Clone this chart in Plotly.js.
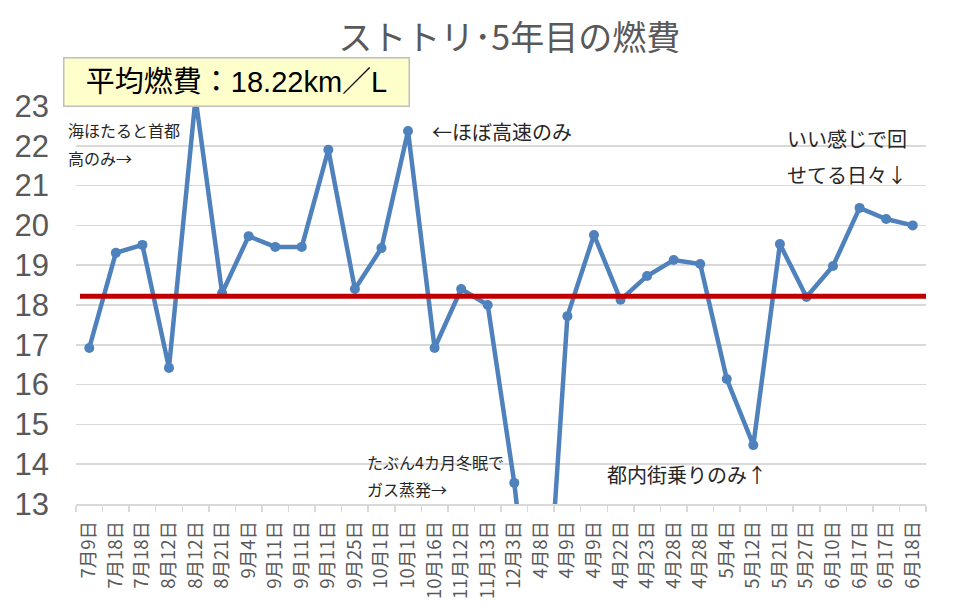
<!DOCTYPE html>
<html>
<head>
<meta charset="utf-8">
<script src="https://cdn.plot.ly/plotly-3.0.1.min.js"></script>
<style>
  body { margin: 0; background: #fff; }
  #chart { width: 959px; height: 616px; outline: 2px solid #d9d9d9; outline-offset: -3px; }
</style>
</head>
<body>
<div id="chart"></div>
<script>
// 給油日ごとの燃費 (km/L)
const dates = [
  "7月9日", "7月18日", "7月18日", "8月12日", "8月12日", "8月21日", "9月4日", "9月11日",
  "9月11日", "9月11日", "9月25日", "10月1日", "10月1日", "10月16日", "11月12日", "11月13日",
  "12月3日", "4月8日", "4月9日", "4月9日", "4月22日", "4月23日", "4月28日", "4月28日",
  "5月4日", "5月12日", "5月21日", "5月27日", "6月10日", "6月17日", "6月17日", "6月18日"
];
const fuel = [
  16.92, 19.31, 19.51, 16.42, 23.2, 18.30, 19.73, 19.46,
  19.46, 21.90, 18.40, 19.43, 22.37, 16.92, 18.40, 18.00,
  13.53, 7.6, 17.72, 19.76, 18.13, 18.73, 19.13, 19.03,
  16.14, 14.48, 19.53, 18.20, 18.98, 20.44, 20.16, 20.00
];
const average = 18.22;
const yTicks = [13, 14, 15, 16, 17, 18, 19, 20, 21, 22, 23];

const idx = dates.map((d, i) => i);
const bounds = dates.map((d, i) => i - 0.5).concat([dates.length - 0.5]);

const jp = '"Noto Sans CJK JP", "Noto Sans", sans-serif';
const mixed = '"Liberation Sans", "Noto Sans CJK JP", sans-serif';
const gray = "#595959";
const note = { family: jp, size: 16, color: "#262626" };
const noteBig = { family: jp, size: 20, color: "#262626" };

const data = [{
  x: idx,
  y: fuel,
  type: "scatter",
  mode: "lines+markers",
  line: { color: "#4f81bd", width: 4.5 },
  marker: { color: "#4f81bd", size: 10 },
  hoverinfo: "y"
}];

const txt = (text, x, y, font) => ({
  text: text, xref: "paper", yref: "paper", x: x, y: y,
  xanchor: "left", yanchor: "middle", showarrow: false, font: font
});

const layout = {
  width: 959,
  height: 616,
  margin: { l: 76, r: 33, t: 106, b: 112 },
  paper_bgcolor: "#ffffff",
  plot_bgcolor: "#ffffff",
  showlegend: false,
  title: {
    text: "ストトリ･5年目の燃費",
    font: { family: jp, size: 34, color: gray },
    xref: "container", x: 0.531, xanchor: "center",
    yref: "container", y: 0.938, yanchor: "middle"
  },
  xaxis: {
    range: [-0.5, dates.length - 0.5],
    tickmode: "array",
    tickvals: idx,
    ticktext: dates,
    tickangle: -90,
    ticks: "",
    ticklabelstandoff: 8,
    tickfont: { family: jp, size: 18.5, color: gray },
    showgrid: false,
    zeroline: false,
    showline: true,
    linecolor: "#d9d9d9",
    linewidth: 1.5,
    minor: {
      tickmode: "array",
      tickvals: bounds,
      ticks: "outside",
      ticklen: 6,
      tickwidth: 1.5,
      tickcolor: "#d9d9d9",
      showgrid: false
    },
    fixedrange: true
  },
  yaxis: {
    range: [13, 23],
    tickmode: "array",
    tickvals: yTicks,
    ticks: "",
    ticklabelstandoff: 26,
    tickfont: { family: mixed, size: 31, color: gray },
    showgrid: true,
    gridcolor: "#d9d9d9",
    gridwidth: 1.5,
    zeroline: false,
    showline: false,
    fixedrange: true
  },
  shapes: [{
    type: "line", xref: "x", yref: "y",
    x0: -0.35, x1: dates.length - 0.35, y0: average, y1: average,
    line: { color: "#c00000", width: 5 },
    layer: "above"
  }],
  annotations: [
    {
      text: "平均燃費：" + average.toFixed(2) + "km／L",
      xref: "paper", yref: "paper", x: -0.0153, y: 1.123,
      xanchor: "left", yanchor: "top", showarrow: false,
      width: 342, height: 45, align: "center", valign: "middle",
      bgcolor: "#ffffcc", bordercolor: "#bfbfbf", borderwidth: 1.5, borderpad: 1,
      font: { family: mixed, size: 29, color: "#000000" }
    },
    txt("海ほたると首都", -0.0118, 0.9397, note),
    txt("高のみ→", -0.0118, 0.8693, note),
    txt("←ほぼ高速のみ", 0.4165, 0.9347, noteBig),
    txt("いい感じで回", 0.8341, 0.9171, noteBig),
    txt("せてる日々↓", 0.8341, 0.8291, noteBig),
    txt("たぶん4カ月冬眠で", 0.34, 0.1055, note),
    txt("ガス蒸発→", 0.34, 0.0377, note),
    txt("都内街乗りのみ↑", 0.6224, 0.0729, noteBig)
  ]
};

Plotly.newPlot("chart", data, layout, { displayModeBar: false, staticPlot: true });
</script>
</body>
</html>
